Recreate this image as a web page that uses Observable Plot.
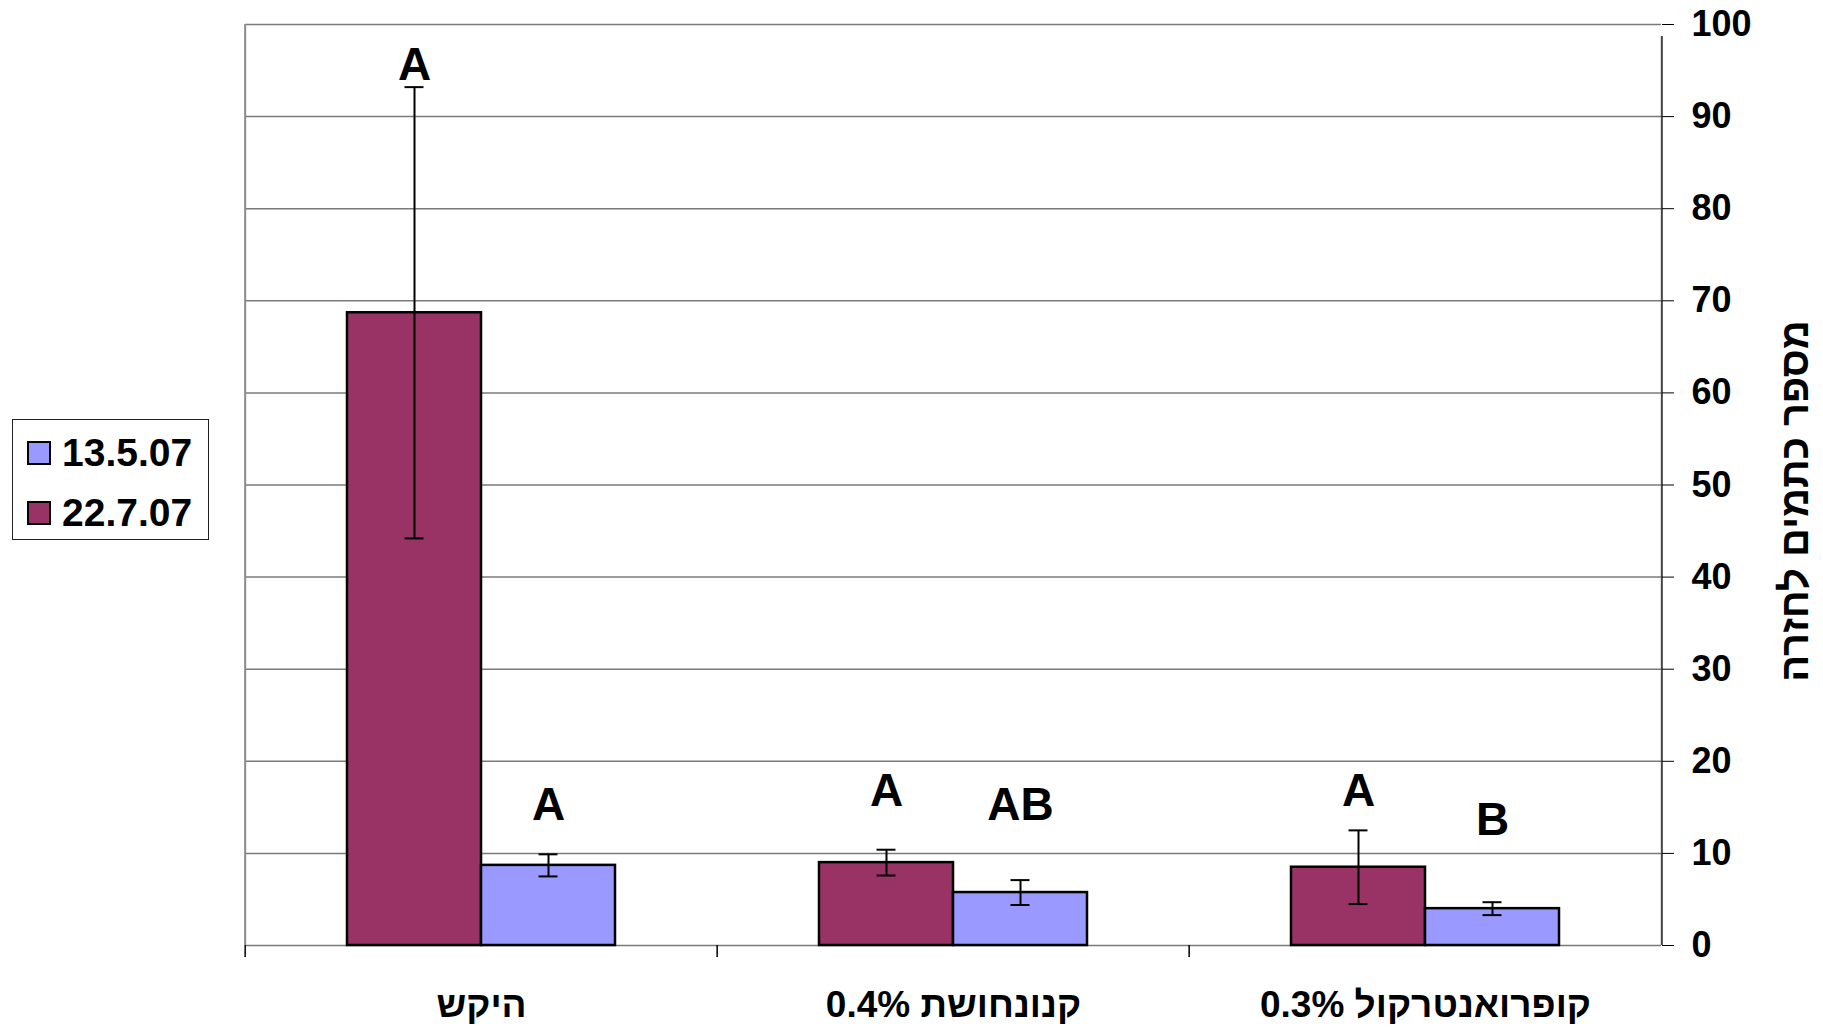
<!DOCTYPE html>
<html>
<head>
<meta charset="utf-8">
<script src="https://cdn.jsdelivr.net/npm/d3@7"></script>
<script src="https://cdn.jsdelivr.net/npm/@observablehq/plot@0.6"></script>
<style>
  body { margin: 0; background: #fff; }
  #wrap { position: relative; width: 1823px; height: 1031px; font-family: "Liberation Sans", "DejaVu Sans", Arial, sans-serif; }
  #chart { position: absolute; left: 0; top: 0; }
  #legend { position: absolute; left: 12px; top: 419px; width: 197px; height: 121px; box-sizing: border-box; border: 1.5px solid #222; background: #fff; }
  .item { position: absolute; left: 14px; height: 40px; display: flex; align-items: center; }
  .sw { width: 20px; height: 20px; border: 2px solid #000; margin-right: 11px; }
  .lab { font-size: 39px; font-weight: bold; color: #000; line-height: 40px; }
</style>
</head>
<body>
<div id="wrap">
  <div id="chart"></div>
  <div id="legend"></div>
</div>
<script>
// ---- data ----
const categories = ["היקש", "0.4% קנונחושת", "0.3% קופרואנטרקול"];
const seriesNames = ["22.7.07", "13.5.07"];          // left-to-right order inside each group
const legendOrder = ["13.5.07", "22.7.07"];
const seriesColors = ["#993366", "#9999FF"];
const meanJul = [68.7, 9.0, 8.5];
const errJul = [24.5, 1.4, 4.0];
const meanMay = [8.7, 5.75, 4.0];
const errMay = [1.2, 1.35, 0.7];
const lettersJul = ["A", "A", "A"];
const lettersMay = ["A", "AB", "B"];
const letterAtJul = [95.6, 16.8, 16.8];
const letterAtMay = [15.2, 15.2, 13.6];
const yTicks = [0, 10, 20, 30, 40, 50, 60, 70, 80, 90, 100];
const yLabel = "מספר כתמים לחזרה";

// ---- table built from the arrays ----
const table = categories.flatMap((cat, i) => [
  {cat, series: seriesNames[0], mean: meanJul[i], err: errJul[i], letter: lettersJul[i], at: letterAtJul[i]},
  {cat, series: seriesNames[1], mean: meanMay[i], err: errMay[i], letter: lettersMay[i], at: letterAtMay[i]}
]);
const edges = categories.map((cat, i) => ({cat, i}));
const lastEdge = edges.filter(d => d.i === categories.length - 1);

// ---- layout ----
const W = 1823, H = 1031;
const mL = 244, mR = 161, mT = 24, mB = 86;
const facetW = (W - mL - mR) / categories.length;
const outerPad = 0.75;
const step = facetW / (seriesNames.length + 2 * outerPad);
const capInset = (step - 20) / 2;
const font = '"Liberation Sans", "DejaVu Sans", Arial, sans-serif';

const plot = Plot.plot({
  width: W, height: H,
  marginLeft: mL, marginRight: mR, marginTop: mT, marginBottom: mB,
  style: {fontFamily: font, background: "#fff", color: "#000"},
  fx: {domain: categories, padding: 0, axis: null, label: null},
  x: {domain: seriesNames, paddingInner: 0, paddingOuter: outerPad, axis: null},
  y: {domain: [0, 100], axis: null},
  color: {domain: seriesNames, range: seriesColors},
  marks: [
    Plot.gridY(yTicks, {stroke: "#7a7a7a", strokeOpacity: 1, strokeWidth: 1.5}),
    // left border of plot area (first facet only)
    Plot.ruleX(edges.filter(d => d.i === 0), {fx: "cat", x: null, dx: -facetW / 2, y1: 0, y2: 100, stroke: "#8a8a8a", strokeWidth: 2}),
    // category boundary ticks below the baseline
    Plot.ruleX(edges, {fx: "cat", x: null, dx: -facetW / 2, y1: 0, y2: 0, insetBottom: -12, stroke: "#000", strokeWidth: 1.5}),
    // bars
    Plot.barY(table, {fx: "cat", x: "series", y: "mean", fill: "series", stroke: "#000", strokeWidth: 2.5}),
    // error bars
    Plot.ruleX(table, {fx: "cat", x: "series", y1: d => d.mean - d.err, y2: d => d.mean + d.err, stroke: "#000", strokeWidth: 2}),
    Plot.tickY(table, {fx: "cat", x: "series", y: d => d.mean + d.err, insetLeft: capInset, insetRight: capInset, stroke: "#000", strokeWidth: 2}),
    Plot.tickY(table, {fx: "cat", x: "series", y: d => d.mean - d.err, insetLeft: capInset, insetRight: capInset, stroke: "#000", strokeWidth: 2}),
    // significance letters
    Plot.text(table, {fx: "cat", x: "series", y: "at", text: "letter", fontSize: 46, fontWeight: "bold", fill: "#000"}),
    // right axis line (last facet only)
    Plot.ruleX(lastEdge, {fx: "cat", x: null, dx: facetW / 2, y1: 0, y2: 100, insetBottom: -12, stroke: "#444", strokeWidth: 2}),
    Plot.axisY(yTicks, {anchor: "right", tickSize: 12, tickPadding: 18, fontSize: 36, fontWeight: "bold", stroke: "#000", label: null}),
    // y axis title (rotated, right side)
    Plot.text(lastEdge, {fx: "cat", x: null, y: null, text: () => yLabel, frameAnchor: "right", textAnchor: "middle", lineAnchor: "middle", rotate: -90,
      dx: 134, dy: 16, fontSize: 40, fontWeight: "bold", fill: "#000"}),
    Plot.axisFx({anchor: "bottom", tickSize: 0, tickPadding: 45, fontSize: 37, fontWeight: "bold", label: null})
  ]
});
document.getElementById("chart").appendChild(plot);

// ---- legend ----
const legend = d3.select("#legend");
legendOrder.forEach((name, k) => {
  const item = legend.append("div").attr("class", "item").style("top", (13 + k * 60) + "px");
  item.append("div").attr("class", "sw").style("background", seriesColors[seriesNames.indexOf(name)]);
  item.append("div").attr("class", "lab").text(name);
});
</script>
</body>
</html>
